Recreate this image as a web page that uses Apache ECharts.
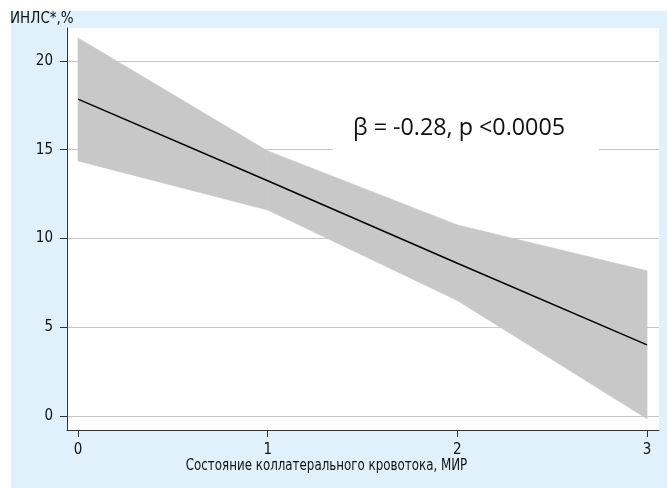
<!DOCTYPE html>
<html>
<head>
<meta charset="utf-8">
<script src="https://cdn.jsdelivr.net/npm/echarts@6/dist/echarts.min.js"></script>
<style>
  html, body { margin: 0; padding: 0; background: #ffffff; }
  #chart { width: 667px; height: 488px; }
</style>
</head>
<body>
<div id="chart"></div>
<script>
// Collateral flow grade (x) vs. ИНЛС, linear fit with confidence band
const xValues = [0, 1, 2, 3];
const fitValues = [17.85, 13.25, 8.6, 4.0];
const bandLower = [14.37, 11.6, 6.5, -0.17];
const bandUpper = [21.3, 14.93, 10.76, 8.17];
const xTicks = [0, 1, 2, 3];
const yTicks = [0, 5, 10, 15, 20];
const annotation = 'β = -0.28, p <0.0005';
const xTitle = 'Состояние коллатерального кровотока, МИР';
const yTitle = 'ИНЛС*,%';

const narrow = '"DejaVu Sans Condensed", "Liberation Sans Narrow", sans-serif';

const bandData = xValues.map((x, i) => [x, bandLower[i], bandUpper[i]]);
const fitData = xValues.map((x, i) => [x, fitValues[i]]);

// one polygon per segment between consecutive x values
function renderBand(params, api) {
  const i = params.dataIndex;
  if (i >= bandData.length - 1) return null;
  const a = bandData[i], b = bandData[i + 1];
  const pts = [
    api.coord([a[0], a[2]]), api.coord([b[0], b[2]]),
    api.coord([b[0], b[1]]), api.coord([a[0], a[1]])
  ];
  return {
    type: 'polygon',
    shape: { points: pts },
    style: { fill: '#c8c8c8', stroke: '#c8c8c8', lineWidth: 0.6 }
  };
}

const chart = echarts.init(document.getElementById('chart'), null, { renderer: 'canvas' });

chart.setOption({
  animation: false,
  backgroundColor: '#ffffff',
  graphic: [
    { type: 'rect', z: -10, silent: true,
      shape: { x: 11, y: 11, width: 656, height: 477 },
      style: { fill: '#e0f1fb' } },
    { type: 'rect', z: -9, silent: true,
      shape: { x: 67, y: 28, width: 592, height: 402 },
      style: { fill: '#ffffff' } },
    { type: 'rect', z: 100, silent: true,
      shape: { x: 333, y: 102, width: 266, height: 56 },
      style: { fill: '#ffffff' } },
    { type: 'text', z: 101, silent: true,
      x: 353, y: 128,
      style: { text: annotation, fill: '#111111', font: '23.3px "Open Sans", "Noto Sans", sans-serif',
               verticalAlign: 'middle' } },
    { type: 'text', z: 101, silent: true,
      x: 10, y: 19,
      style: { text: yTitle, fill: '#111111', font: '15px ' + narrow, verticalAlign: 'middle' } },
    { type: 'text', z: 101, silent: true,
      x: 326.5, y: 466, scaleX: 0.88, originX: 0, originY: 0,
      style: { text: xTitle, fill: '#111111', font: '15px ' + narrow,
               align: 'center', verticalAlign: 'middle' } }
  ],
  grid: { left: 67, right: 8, top: 28, bottom: 58, containLabel: false },
  xAxis: {
    type: 'value',
    min: -0.058,
    max: 3.063,
    axisLine: { show: true, onZero: false, lineStyle: { color: '#333333', width: 1 } },
    axisTick: { show: true, length: 7, lineStyle: { color: '#333333' }, customValues: xTicks },
    axisLabel: { customValues: xTicks, fontFamily: narrow, fontSize: 15, color: '#111111', margin: 13 },
    splitLine: { show: false }
  },
  yAxis: {
    type: 'value',
    min: -0.8,
    max: 21.86,
    axisLine: { show: true, onZero: false, lineStyle: { color: '#333333', width: 1 } },
    axisTick: { show: true, length: 7, lineStyle: { color: '#333333' }, customValues: yTicks },
    axisLabel: { customValues: yTicks, fontFamily: narrow, fontSize: 15, color: '#111111', margin: 14 },
    splitLine: { show: true, lineStyle: { color: '#c8c8c8', width: 1 } }
  },
  series: [
    { type: 'custom', data: bandData, renderItem: renderBand, silent: true, z: 2,
      encode: { x: 0, y: [1, 2] } },
    { type: 'line', data: fitData, symbol: 'none',
      lineStyle: { color: '#000000', width: 1.5 }, silent: true, z: 3 }
  ]
});
</script>
</body>
</html>
